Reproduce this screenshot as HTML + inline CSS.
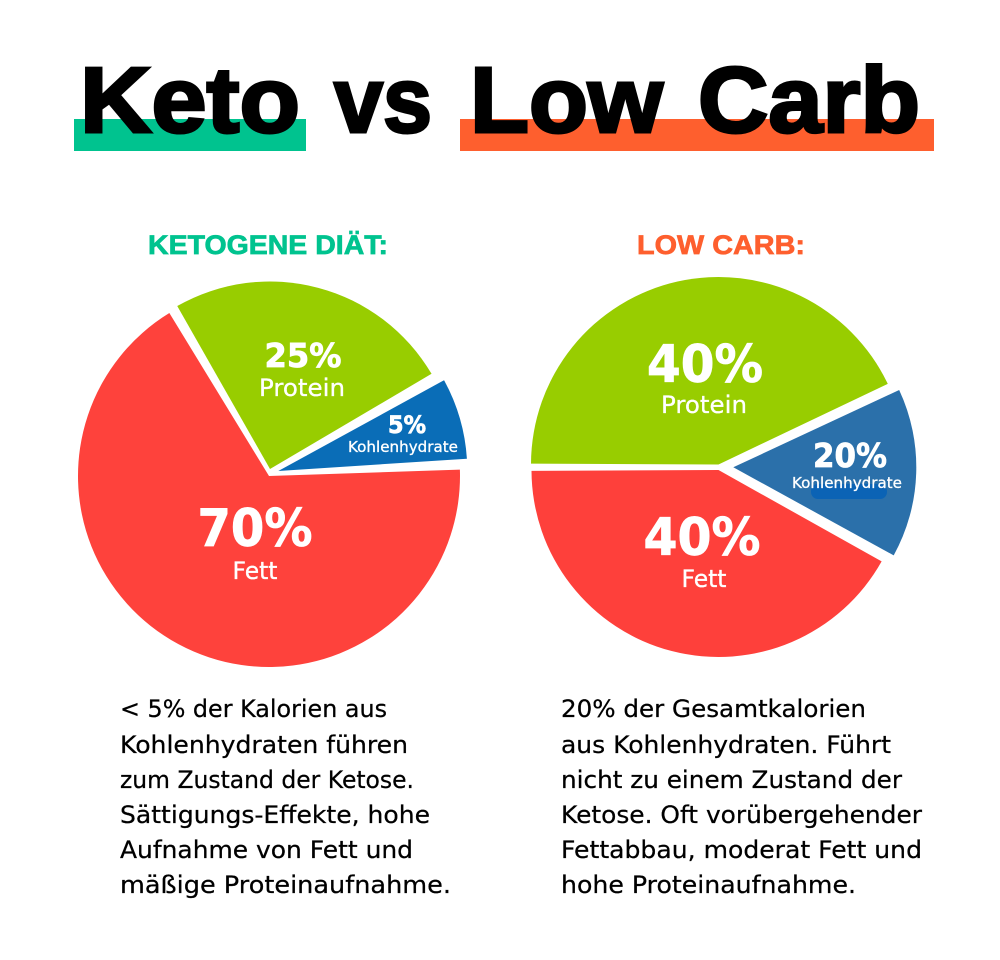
<!DOCTYPE html>
<html lang="de">
<head>
<meta charset="utf-8">
<title>Keto vs Low Carb</title>
<style>
html,body{margin:0;padding:0;background:#fff;}
svg{display:block;}
.title{font-family:"Liberation Sans",sans-serif;font-weight:700;font-size:93px;fill:#000;stroke:#000;stroke-width:3px;}
.sub{font-family:"Liberation Sans",sans-serif;font-weight:700;font-size:27px;stroke-width:0.7px;}
.body{font-family:"DejaVu Sans",sans-serif;font-size:24px;fill:#000;stroke:#000;stroke-width:0.25px;}
.pct{font-family:"DejaVu Sans",sans-serif;font-weight:700;fill:#fff;stroke:#fff;stroke-width:0.8px;}
.nm{font-family:"DejaVu Sans",sans-serif;fill:#fff;stroke:#fff;stroke-width:0.3px;}
</style>
</head>
<body>
<svg id="chart" xmlns="http://www.w3.org/2000/svg" width="1000" height="960" viewBox="0 0 1000 960">
  <rect width="1000" height="960" fill="#ffffff"/>

  <rect x="74" y="119" width="232" height="32" fill="#00c38f"/>
  <rect x="460" y="119" width="474" height="32" fill="#fe5f2e"/>
  <g>
    <text class="title" x="80" y="132" textLength="220" lengthAdjust="spacingAndGlyphs">Keto</text>
    <text class="title" x="334" y="132" textLength="98" lengthAdjust="spacingAndGlyphs">vs</text>
    <text class="title" x="470" y="132" textLength="193" lengthAdjust="spacingAndGlyphs">Low</text>
    <text class="title" x="698" y="132" textLength="222" lengthAdjust="spacingAndGlyphs">Carb</text>
  </g>

  <text class="sub" x="148" y="254" fill="#00c38f" stroke="#00c38f" textLength="240" lengthAdjust="spacingAndGlyphs">KETOGENE DIÄT:</text>
  <text class="sub" x="637" y="254" fill="#fe5f2e" stroke="#fe5f2e" textLength="168" lengthAdjust="spacingAndGlyphs">LOW CARB:</text>

  <g id="pie-left"></g>
  <g id="pie-right"></g>

  <g>
    <text class="body" x="120" y="717" textLength="267" lengthAdjust="spacingAndGlyphs">&lt; 5% der Kalorien aus</text>
    <text class="body" x="120" y="753" textLength="288" lengthAdjust="spacingAndGlyphs">Kohlenhydraten führen</text>
    <text class="body" x="120" y="788" textLength="294" lengthAdjust="spacingAndGlyphs">zum Zustand der Ketose.</text>
    <text class="body" x="120" y="823" textLength="310" lengthAdjust="spacingAndGlyphs">Sättigungs-Effekte, hohe</text>
    <text class="body" x="120" y="858" textLength="293" lengthAdjust="spacingAndGlyphs">Aufnahme von Fett und</text>
    <text class="body" x="120" y="893" textLength="331" lengthAdjust="spacingAndGlyphs">mäßige Proteinaufnahme.</text>
  </g>
  <g>
    <text class="body" x="561" y="717" textLength="305" lengthAdjust="spacingAndGlyphs">20% der Gesamtkalorien</text>
    <text class="body" x="561" y="753" textLength="330" lengthAdjust="spacingAndGlyphs">aus Kohlenhydraten. Führt</text>
    <text class="body" x="561" y="788" textLength="341" lengthAdjust="spacingAndGlyphs">nicht zu einem Zustand der</text>
    <text class="body" x="561" y="823" textLength="361" lengthAdjust="spacingAndGlyphs">Ketose. Oft vorübergehender</text>
    <text class="body" x="561" y="858" textLength="361" lengthAdjust="spacingAndGlyphs">Fettabbau, moderat Fett und</text>
    <text class="body" x="561" y="893" textLength="295" lengthAdjust="spacingAndGlyphs">hohe Proteinaufnahme.</text>
  </g>
</svg>

<script>
// Chart data
const categories = ['Protein', 'Kohlenhydrate', 'Fett'];
const ketoShares = [25.26, 7.44, 67.3];
const ketoPrinted = ['25%', '5%', '70%'];
const lowCarbShares = [42.99, 15.07, 41.94];
const lowCarbPrinted = ['40%', '20%', '40%'];

// Visual layout (not data)
const NS = 'http://www.w3.org/2000/svg';
const sliceColorsLeft = ['#98cd00', '#0a6db7', '#fe423c'];
const sliceColorsRight = ['#98cd00', '#2b70aa', '#fe403b'];
const leftLayout = {
  slug: 'keto', startDeg: -30.55, pad: 0.9,
  hubs: [{x: 270, y: 469, r: 187.5}, {x: 278.3, y: 471, r: 189}, {x: 269, y: 476, r: 191}],
  labels: [
    {pcx: 303, ncx: 302, py: 367, pw: 77, ps: 33, ny: 396, nw: 86, ns: 24},
    {pcx: 407, ncx: 403, py: 433, pw: 38, ps: 24, ny: 452, nw: 110, ns: 15},
    {pcx: 255, ncx: 255, py: 546, pw: 115, ps: 52, ny: 579, nw: 45, ns: 24}
  ]
};
const rightLayout = {
  slug: 'low-carb', startDeg: -90, pad: 0.25,
  hubs: [{x: 718.5, y: 464.5, r: 187.5}, {x: 733.3, y: 467.3, r: 183}, {x: 718.5, y: 470, r: 187}],
  labels: [
    {pcx: 705, ncx: 704, py: 382, pw: 116, ps: 52, ny: 413, nw: 86, ns: 24},
    {pcx: 850, ncx: 847, py: 467, pw: 74, ps: 33, ny: 488, nw: 110, ns: 15},
    {pcx: 702, ncx: 704, py: 555, pw: 117, ps: 52, ny: 587, nw: 45, ns: 24}
  ]
};

function polar(h, deg) {
  const a = deg * Math.PI / 180;
  return [h.x + h.r * Math.sin(a), h.y - h.r * Math.cos(a)];
}

function slicePath(h, a0, a1) {
  const p0 = polar(h, a0);
  const p1 = polar(h, a1);
  const large = (a1 - a0) > 180 ? 1 : 0;
  return 'M' + h.x + ' ' + h.y + 'L' + p0[0] + ' ' + p0[1] +
    'A' + h.r + ' ' + h.r + ' 0 ' + large + ' 1 ' + p1[0] + ' ' + p1[1] + 'Z';
}

function addLabelText(group, cls, content, cx, y, width, size) {
  const t = document.createElementNS(NS, 'text');
  t.setAttribute('class', cls);
  t.setAttribute('x', cx - width / 2);
  t.setAttribute('y', y);
  t.setAttribute('font-size', size);
  t.setAttribute('textLength', width);
  t.setAttribute('lengthAdjust', 'spacingAndGlyphs');
  t.textContent = content;
  group.appendChild(t);
  return t;
}

function drawPie(target, shares, printed, colors, layout) {
  const total = shares.reduce(function (s, v) { return s + v; }, 0);
  let angle = layout.startDeg;
  shares.forEach(function (value, i) {
    const span = value / total * 360;
    const path = document.createElementNS(NS, 'path');
    path.setAttribute('d', slicePath(layout.hubs[i], angle + layout.pad, angle + span - layout.pad));
    path.setAttribute('fill', colors[i]);
    
    
    target.appendChild(path);
    angle += span;
  });
  if (layout.slug === 'low-carb') {
    const smudge = document.createElementNS(NS, 'rect');
    smudge.setAttribute('x', 811);
    smudge.setAttribute('y', 484);
    smudge.setAttribute('width', 76);
    smudge.setAttribute('height', 15);
    smudge.setAttribute('rx', 7);
    smudge.setAttribute('fill', '#0b63b5');
    
    
    target.appendChild(smudge);
  }
  printed.forEach(function (txt, i) {
    const lab = layout.labels[i];
    const pctText = addLabelText(target, 'pct', txt, lab.pcx, lab.py, lab.pw, lab.ps);
    
    
    const nameText = addLabelText(target, 'nm', categories[i], lab.ncx, lab.ny, lab.nw, lab.ns);
    
    
  });
}

drawPie(document.getElementById('pie-left'), ketoShares, ketoPrinted, sliceColorsLeft, leftLayout);
drawPie(document.getElementById('pie-right'), lowCarbShares, lowCarbPrinted, sliceColorsRight, rightLayout);
</script>
</body>
</html>
